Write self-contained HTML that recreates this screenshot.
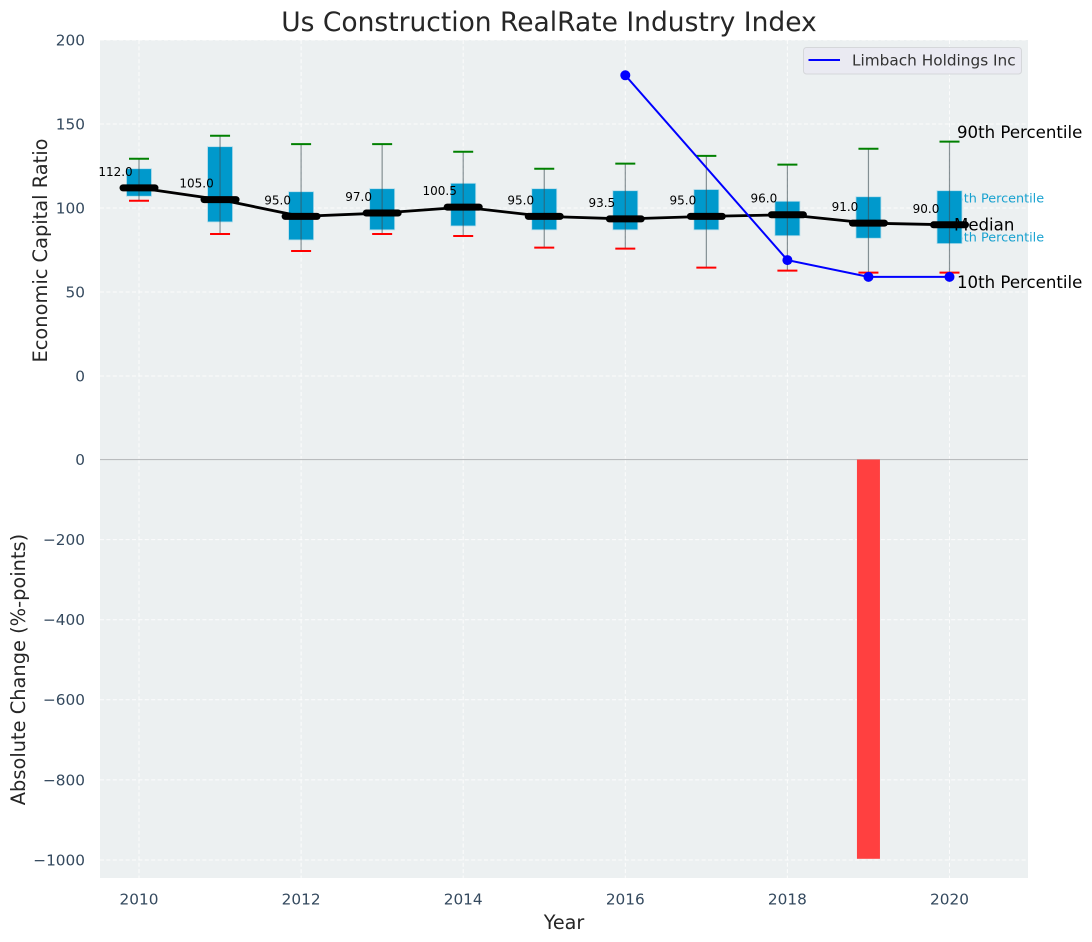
<!DOCTYPE html>
<html>
<head>
<meta charset="utf-8">
<title>Us Construction RealRate Industry Index</title>
<style>
html,body{margin:0;padding:0;background:#fff;}
svg{display:block;font-family:"DejaVu Sans","Liberation Sans",sans-serif;}
</style>
</head>
<body>
<svg id="chart" width="1092" height="942" viewBox="0 0 1092 942" xmlns="http://www.w3.org/2000/svg"></svg>
<script>
const years = [2010,2011,2012,2013,2014,2015,2016,2017,2018,2019,2020];
const p90 = [129.3,143,138,138,133.5,123.4,126.4,131,125.8,135.3,139.5];
const p75 = [123.4,136.5,109.7,111.5,114.7,111.5,110.3,111,104,106.7,110.3];
const medians = [112,105,95,97,100.5,95,93.5,95,96,91,90];
const p25 = [107,91.7,81,87,89.3,87,87,87,83.5,82,78.8];
const p10 = [104.3,84.5,74.4,84.5,83.3,76.4,75.8,64.5,62.7,61.5,61.5];
const medianLabels = ['112.0','105.0','95.0','97.0','100.5','95.0','93.5','95.0','96.0','91.0','90.0'];
const companyYears = [2016,2018,2019,2020];
const companyValues = [179,69,59,59];
const changeYears = [2019];
const changeValues = [-997];
const topTicks = [0,50,100,150,200];
const bottomTicks = [0,-200,-400,-600,-800,-1000];
const xTicks = [2010,2012,2014,2016,2018,2020];

const svg = document.getElementById('chart');
const NS = 'http://www.w3.org/2000/svg';
const xScale = v => 139 + (v - 2010) * 81.05;
const yTop = v => 376 - v * 1.68;
const yBot = v => 459.5 - v * 0.4005;
const minusText = v => v < 0 ? '\u2212' + Math.abs(v) : String(v);

function make(tag, attrs, text) {
  const el = document.createElementNS(NS, tag);
  for (const k in attrs) el.setAttribute(k, attrs[k]);
  if (text !== undefined) el.textContent = text;
  svg.appendChild(el);
  return el;
}

// panels
let el = make('rect', {x:100, y:40, width:928, height:418.5, fill:'#ecf0f1'});


el = make('rect', {x:100, y:459.5, width:928, height:418.5, fill:'#ecf0f1'});



// grid
const gridStyle = {stroke:'#ffffff', 'stroke-width':1, 'stroke-dasharray':'4 2.4', opacity:0.85};
xTicks.forEach(t => {
  el = make('line', {x1:xScale(t), x2:xScale(t), y1:40, y2:458.5, ...gridStyle});
  
  
  el = make('line', {x1:xScale(t), x2:xScale(t), y1:459.5, y2:878, ...gridStyle});
  
  
});
topTicks.forEach(t => {
  el = make('line', {x1:100, x2:1028, y1:yTop(t), y2:yTop(t), ...gridStyle});
  
  
  el = make('text', {x:85, y:yTop(t) + 5.4, 'text-anchor':'end', 'font-size':15.3, fill:'#34495e'}, String(t));
  
  
});
bottomTicks.forEach(t => {
  if (t !== 0) {
    el = make('line', {x1:100, x2:1028, y1:yBot(t), y2:yBot(t), ...gridStyle});
    
    
  }
  el = make('text', {x:85, y:yBot(t) + 5.4, 'text-anchor':'end', 'font-size':15.3, fill:'#34495e'}, minusText(t));
  
  
});
xTicks.forEach(t => {
  el = make('text', {x:xScale(t), y:904.5, 'text-anchor':'middle', 'font-size':15.3, fill:'#34495e'}, String(t));
  
  
});

// zero line
el = make('line', {x1:100, x2:1028, y1:yBot(0), y2:yBot(0), stroke:'#b9bcbe', 'stroke-width':1.3});



// change bars
changeYears.forEach((yr, i) => {
  const y0 = yBot(0), y1 = yBot(changeValues[i]);
  el = make('rect', {x:xScale(yr) - 11.5, y:y0, width:23, height:y1 - y0, fill:'#ff4040'});
  
  
});

// percentile text under the last box
const lastIdx = years.length - 1;
el = make('text', {x:947.5, y:yTop(p75[lastIdx]) + 12, 'font-size':12.8, fill:'#0099cc', opacity:0.9}, '75th Percentile');


el = make('text', {x:947.5, y:yTop(p25[lastIdx]) - 2, 'font-size':12.8, fill:'#0099cc', opacity:0.9}, '25th Percentile');



// boxes and whiskers
years.forEach((yr, i) => {
  const cx = xScale(yr);
  el = make('rect', {x:cx - 12.5, y:yTop(p75[i]), width:25, height:yTop(p25[i]) - yTop(p75[i]), fill:'#0099cc', stroke:'#b5dcea', 'stroke-width':0.8});
  
  
  el = make('line', {x1:cx, x2:cx, y1:yTop(p90[i]), y2:yTop(p10[i]), stroke:'#3f4f55', 'stroke-width':1.2, opacity:0.6});
  
  
  el = make('line', {x1:cx - 10, x2:cx + 10, y1:yTop(p90[i]), y2:yTop(p90[i]), stroke:'#008000', 'stroke-width':2});
  
  
  el = make('line', {x1:cx - 10, x2:cx + 10, y1:yTop(p10[i]), y2:yTop(p10[i]), stroke:'#ff0000', 'stroke-width':2});
  
  
});

// median connecting line
el = make('polyline', {points:years.map((yr, i) => xScale(yr) + ',' + yTop(medians[i])).join(' '), fill:'none', stroke:'#000000', 'stroke-width':2.8, 'stroke-linejoin':'round'});



// median dashes and labels
years.forEach((yr, i) => {
  const cx = xScale(yr), cy = yTop(medians[i]);
  el = make('line', {x1:cx - 16, x2:cx + 16, y1:cy, y2:cy, stroke:'#000000', 'stroke-width':7, 'stroke-linecap':'round'});
  
  
  el = make('text', {x:cx - 23.5, y:cy - 12, 'text-anchor':'middle', 'font-size':12, fill:'#000000'}, medianLabels[i]);
  
  
});

// company line
el = make('polyline', {points:companyYears.map((yr, i) => xScale(yr) + ',' + yTop(companyValues[i])).join(' '), fill:'none', stroke:'#0000ff', 'stroke-width':2});


companyYears.forEach((yr, i) => {
  el = make('circle', {cx:xScale(yr), cy:yTop(companyValues[i]), r:5, fill:'#0000ff'});
  
  
});

// annotations
el = make('text', {x:957, y:138, 'font-size':16.6, fill:'#000000'}, '90th Percentile');


el = make('text', {x:954, y:230.5, 'font-size':16.6, fill:'#000000'}, 'Median');


el = make('text', {x:957, y:288, 'font-size':16.6, fill:'#000000'}, '10th Percentile');



// legend
el = make('rect', {x:803.5, y:47.5, width:218, height:26.5, rx:3, fill:'#eaeaf2', stroke:'#d5d7da', 'stroke-width':1});


el = make('line', {x1:808.5, x2:840, y1:60, y2:60, stroke:'#0000ff', 'stroke-width':2});


el = make('text', {x:852, y:65.5, 'font-size':15.3, fill:'#333333'}, 'Limbach Holdings Inc');



// titles
el = make('text', {x:549, y:31, 'text-anchor':'middle', 'font-size':26.5, fill:'#262626'}, 'Us Construction RealRate Industry Index');


el = make('text', {x:564, y:929, 'text-anchor':'middle', 'font-size':19.2, fill:'#262626'}, 'Year');


el = make('text', {transform:'translate(47,250.5) rotate(-90)', 'text-anchor':'middle', 'font-size':19.4, fill:'#262626'}, 'Economic Capital Ratio');


el = make('text', {transform:'translate(25,669.5) rotate(-90)', 'text-anchor':'middle', 'font-size':19.4, fill:'#262626'}, 'Absolute Change (%-points)');


</script>
</body>
</html>
